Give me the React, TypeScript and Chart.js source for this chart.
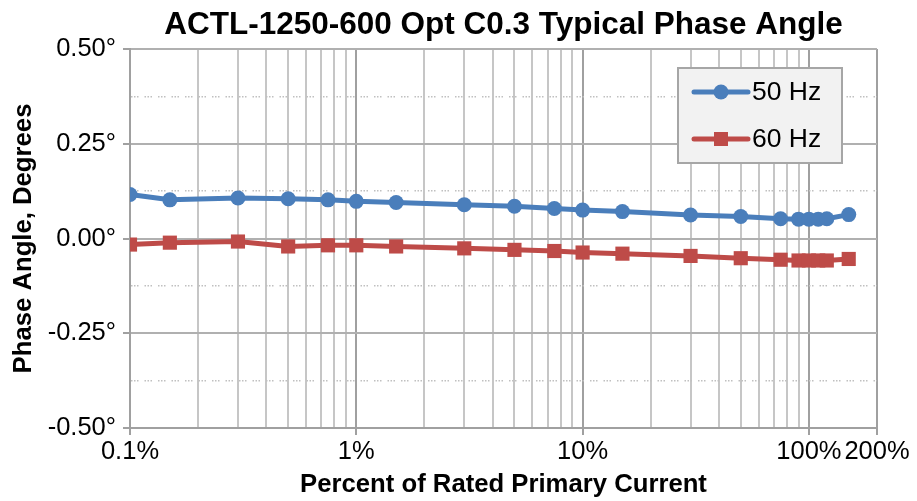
import React, { useEffect, useRef } from 'react';
import { Chart, registerables } from 'chart.js';

Chart.register(...registerables);

const FONT = "'Liberation Sans', Arial, Helvetica, sans-serif";

const chartTitle = 'ACTL-1250-600 Opt C0.3 Typical Phase Angle';
const xAxisTitle = 'Percent of Rated Primary Current';
const yAxisTitle = 'Phase Angle, Degrees';

const seriesNames = ['50 Hz', '60 Hz'];
const seriesColors = ['#4a7ebb', '#be4b48'];

const currentPct = [0.1, 0.15, 0.3, 0.5, 0.75, 1, 1.5, 3, 5, 7.5, 10, 15, 30, 50, 75, 90, 100, 110, 120, 150];
const phase50Hz = [0.116, 0.102, 0.107, 0.105, 0.102, 0.098, 0.095, 0.089, 0.085, 0.079, 0.075, 0.071, 0.062, 0.058, 0.052, 0.051, 0.051, 0.051, 0.052, 0.063];
const phase60Hz = [-0.016, -0.011, -0.008, -0.021, -0.018, -0.018, -0.021, -0.026, -0.030, -0.033, -0.037, -0.040, -0.046, -0.052, -0.056, -0.058, -0.058, -0.058, -0.058, -0.054];

const xTickValues = [0.1, 0.2, 0.3, 0.4, 0.5, 0.6, 0.7, 0.8, 0.9, 1, 2, 3, 4, 5, 6, 7, 8, 9, 10, 20, 30, 40, 50, 60, 70, 80, 90, 100, 200];
const xTickLabels = ['0.1%', '', '', '', '', '', '', '', '', '1%', '', '', '', '', '', '', '', '', '10%', '', '', '', '', '', '', '', '', '100%', '200%'];

const yTickValues = [-0.5, -0.375, -0.25, -0.125, 0, 0.125, 0.25, 0.375, 0.5];
const yTickLabels = ['-0.50°', '', '-0.25°', '', '0.00°', '', '0.25°', '', '0.50°'];

const titlePlugin = {
  id: 'customTitle',
  afterDraw(chart: any) {
    const { ctx, chartArea } = chart;
    ctx.save();
    ctx.font = `bold 31.5px ${FONT}`;
    ctx.fillStyle = '#000';
    ctx.textAlign = 'center';
    ctx.textBaseline = 'alphabetic';
    ctx.fillText(chartTitle, (chartArea.left + chartArea.right) / 2, 34);
    ctx.restore();
  },
};

const legendPlugin = {
  id: 'customLegend',
  afterDraw(chart: any) {
    const { ctx } = chart;
    const bx = 678, by = 68, bw = 164, bh = 95;
    ctx.save();
    ctx.fillStyle = '#f2f2f2';
    ctx.fillRect(bx, by, bw, bh);
    ctx.strokeStyle = '#a6a6a6';
    ctx.lineWidth = 2;
    ctx.strokeRect(bx, by, bw, bh);
    const rows = [by + 24, by + 71];
    seriesNames.forEach((name, i) => {
      const y = rows[i];
      ctx.strokeStyle = seriesColors[i];
      ctx.lineWidth = 5;
      ctx.lineCap = 'round';
      ctx.beginPath();
      ctx.moveTo(694, y);
      ctx.lineTo(748, y);
      ctx.stroke();
      ctx.fillStyle = seriesColors[i];
      if (i === 0) {
        ctx.beginPath();
        ctx.arc(721, y, 7.5, 0, Math.PI * 2);
        ctx.fill();
      } else {
        ctx.fillRect(714, y - 7, 14, 14);
      }
      ctx.fillStyle = '#000';
      ctx.font = `26.5px ${FONT}`;
      ctx.textAlign = 'left';
      ctx.textBaseline = 'middle';
      ctx.fillText(name, 752, y + 1);
    });
    ctx.restore();
  },
};

export default function App() {
  const canvasRef = useRef<HTMLCanvasElement | null>(null);

  useEffect(() => {
    const canvas = canvasRef.current;
    if (!canvas) return;
    const chart = new Chart(canvas, {
      type: 'line',
      data: {
        datasets: [
          {
            label: seriesNames[0],
            data: currentPct.map((x, i) => ({ x, y: phase50Hz[i] })),
            borderColor: seriesColors[0],
            backgroundColor: seriesColors[0],
            borderWidth: 5,
            pointStyle: 'circle',
            pointRadius: 7.5,
            pointBorderWidth: 0,
            pointBackgroundColor: seriesColors[0],
            tension: 0,
          },
          {
            label: seriesNames[1],
            data: currentPct.map((x, i) => ({ x, y: phase60Hz[i] })),
            borderColor: seriesColors[1],
            backgroundColor: seriesColors[1],
            borderWidth: 5,
            pointStyle: 'rect',
            pointRadius: 10,
            pointBorderWidth: 0,
            pointBackgroundColor: seriesColors[1],
            tension: 0,
          },
        ],
      },
      options: {
        animation: false,
        responsive: true,
        maintainAspectRatio: false,
        layout: { padding: { top: 49, right: 40, left: 0, bottom: 0 } },
        plugins: {
          legend: { display: false },
          title: { display: false },
          tooltip: { enabled: false },
        },
        scales: {
          x: {
            type: 'logarithmic',
            min: 0.1,
            max: 200,
            afterBuildTicks: (scale: any) => {
              scale.ticks = xTickValues.map((v) => ({ value: v }));
            },
            afterFit: (scale: any) => {
              scale.height = 73;
            },
            ticks: {
              autoSkip: false,
              maxRotation: 0,
              minRotation: 0,
              padding: 2,
              color: '#000',
              font: { family: FONT, size: 25.5 },
              callback: (_v: any, i: number) => xTickLabels[i],
            },
            grid: {
              color: (c: any) => (xTickLabels[c.index] ? '#a0a0a0' : '#c6c6c6'),
              lineWidth: 2,
              tickLength: 7,
              tickWidth: 2,
              tickColor: (c: any) => (xTickLabels[c.index] ? '#a0a0a0' : 'rgba(0,0,0,0)'),
            },
            border: { display: true, color: '#a0a0a0', width: 2 },
            title: {
              display: true,
              text: xAxisTitle,
              color: '#000',
              font: { family: FONT, size: 25.7, weight: 'bold' },
              padding: { top: 0, bottom: 1 },
            },
          },
          y: {
            type: 'linear',
            min: -0.5,
            max: 0.5,
            afterBuildTicks: (scale: any) => {
              scale.ticks = yTickValues.map((v) => ({ value: v }));
            },
            afterFit: (scale: any) => {
              scale.width = 130;
            },
            ticks: {
              autoSkip: false,
              padding: 7,
              color: '#000',
              font: { family: FONT, size: 25.5 },
              callback: (_v: any, i: number) => yTickLabels[i],
            },
            grid: {
              color: (c: any) => (yTickLabels[c.index] ? '#b0b0b0' : '#c0c0c0'),
              lineWidth: (c: any) => (yTickLabels[c.index] ? 2 : 1.5),
              tickLength: 7,
              tickWidth: 2,
              tickColor: (c: any) => (yTickLabels[c.index] ? '#a0a0a0' : 'rgba(0,0,0,0)'),
            },
            border: {
              display: true,
              color: '#a0a0a0',
              width: 2,
              dash: (c: any) => (c.index !== undefined && !yTickLabels[c.index] ? [1.5, 1.5, 1.5, 1.5, 1.5, 6] : []),
            },
            title: {
              display: true,
              text: yAxisTitle,
              color: '#000',
              font: { family: FONT, size: 25.7, weight: 'bold' },
              padding: { top: 8, bottom: 0 },
            },
          },
        },
      },
      plugins: [titlePlugin, legendPlugin],
    } as any);
    return () => chart.destroy();
  }, []);

  return (
    <div style={{ position: 'absolute', left: 0, top: 0, width: 917, height: 501, background: '#fff' }}>
      <canvas ref={canvasRef} />
    </div>
  );
}
